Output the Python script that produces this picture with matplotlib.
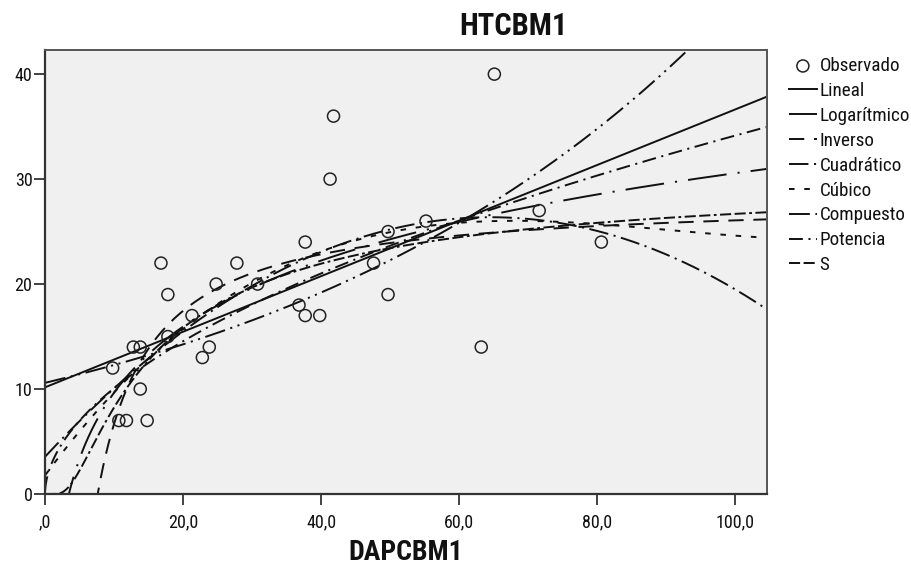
import numpy as np
import matplotlib
matplotlib.use("Agg")
import matplotlib.pyplot as plt
from matplotlib import font_manager as fm

plt.rcParams['lines.scale_dashes'] = False

dap = [9.8, 10.7, 11.8, 12.8, 13.8, 13.8, 14.8, 16.8, 17.8, 17.8, 21.3, 22.8, 23.8, 24.8, 27.8,
       30.8, 36.8, 37.7, 37.7, 39.8, 41.3, 41.8, 47.6, 49.7, 49.7, 55.2, 63.2, 65.1, 71.6, 80.6]
ht = [12, 7, 7, 14, 14, 10, 7, 22, 19, 15, 17, 13, 14, 20, 22,
      20, 18, 24, 17, 17, 30, 36, 22, 25, 19, 26, 14, 40, 27, 24]

model_labels = ['Lineal', 'Logarítmico', 'Inverso', 'Cuadrático', 'Cúbico',
                'Compuesto', 'Potencia', 'S']
xtick_vals = [0, 20, 40, 60, 80, 100]
xtick_labels = [',0', '20,0', '40,0', '60,0', '80,0', '100,0']
ytick_vals = [0, 10, 20, 30, 40]
ytick_labels = ['0', '10', '20', '30', '40']

# pick a narrow sans font similar to the SPSS output
installed = set(f.name for f in fm.fontManager.ttflist)
font = 'Liberation Sans'
for cand in ['Liberation Sans Narrow', 'Roboto Condensed', 'PT Sans Narrow',
             'Archivo Narrow', 'Liberation Sans']:
    if cand in installed:
        font = cand
        break
plt.rcParams['font.family'] = [font, 'DejaVu Sans']
narrow = font != 'Liberation Sans'
tick_fs = 13 if narrow else 12
leg_fs = 13.8 if narrow else 12.4
title_fs = 22 if narrow else 19
xlab_fs = 20 if narrow else 17

x = np.array(dap, dtype=float)
y = np.array(ht, dtype=float)

# Curve estimation fits (SPSS-style models) on the observed data
lin = np.polyfit(x, y, 1)
logm = np.polyfit(np.log(x), y, 1)
inv = np.polyfit(1 / x, y, 1)
quad = np.polyfit(x, y, 2)
cub = np.polyfit(x, y, 3)
comp = np.polyfit(x, np.log(y), 1)
powm = np.polyfit(np.log(x), np.log(y), 1)
sm = np.polyfit(1 / x, np.log(y), 1)

xs = np.linspace(0.02, 104.6, 1500)
curves = [
    np.polyval(lin, xs),
    np.polyval(logm, np.log(xs)),
    np.polyval(inv, 1 / xs),
    np.polyval(quad, xs),
    np.polyval(cub, xs),
    np.exp(np.polyval(comp, xs)),
    np.exp(np.polyval(powm, np.log(xs))),
    np.exp(np.polyval(sm, 1 / xs)),
]
styles = [
    '-',
    (0, (28, 8, 1.5, 8)),
    (0, (11, 7)),
    (0, (14, 4, 1.5, 4)),
    (0, (4, 7)),
    (0, (15, 4, 1.5, 4, 1.5, 4)),
    (0, (10, 4, 1.5, 4)),
    (0, (8, 2.5, 8, 2.5, 2, 2.5)),
]

fig = plt.figure(figsize=(9.12, 5.76), dpi=100)
ax = fig.add_axes([45 / 912, 82 / 576, 722 / 912, 444 / 576])
ax.set_facecolor('#f0f0f0')

ax.scatter(x, y, s=75, facecolors='none', edgecolors='#222222', linewidths=1.1,
           label='Observado', zorder=3)
for c, st, lb in zip(curves, styles, model_labels):
    ax.plot(xs, c, color='#111111', lw=1.4, linestyle=st, label=lb)

ax.set_xlim(0, 104.6)
ax.set_ylim(0, 42.3)
ax.set_xticks(xtick_vals)
ax.set_xticklabels(xtick_labels)
ax.set_yticks(ytick_vals)
ax.set_yticklabels(ytick_labels)
ax.tick_params(axis='both', direction='out', length=8, width=1.2, colors='#222222',
               labelsize=tick_fs, labelcolor='#111111')
ax.tick_params(axis='x', pad=6)
ax.tick_params(axis='y', pad=1)
for side in ['left', 'bottom']:
    ax.spines[side].set_color('#333333')
    ax.spines[side].set_linewidth(1.6)
for side in ['top', 'right']:
    ax.spines[side].set_color('#555555')
    ax.spines[side].set_linewidth(1.4)

fig.text(513 / 912, 1 - 26 / 576, 'HTCBM1', ha='center', va='center',
         fontsize=title_fs, fontweight='bold', color='#111111')
fig.text(406 / 912, 1 - 552 / 576, 'DAPCBM1', ha='center', va='center',
         fontsize=xlab_fs, fontweight='bold', color='#111111')

leg = ax.legend(loc='upper left', bbox_to_anchor=(789 / 912, 1 - 57 / 576),
                bbox_transform=fig.transFigure, frameon=False, fontsize=leg_fs,
                handlelength=1.45, handletextpad=0.15, labelspacing=0.36,
                borderpad=0, borderaxespad=0)
for t in leg.get_texts():
    t.set_color('#111111')

fig.savefig('out.png', dpi=100)
